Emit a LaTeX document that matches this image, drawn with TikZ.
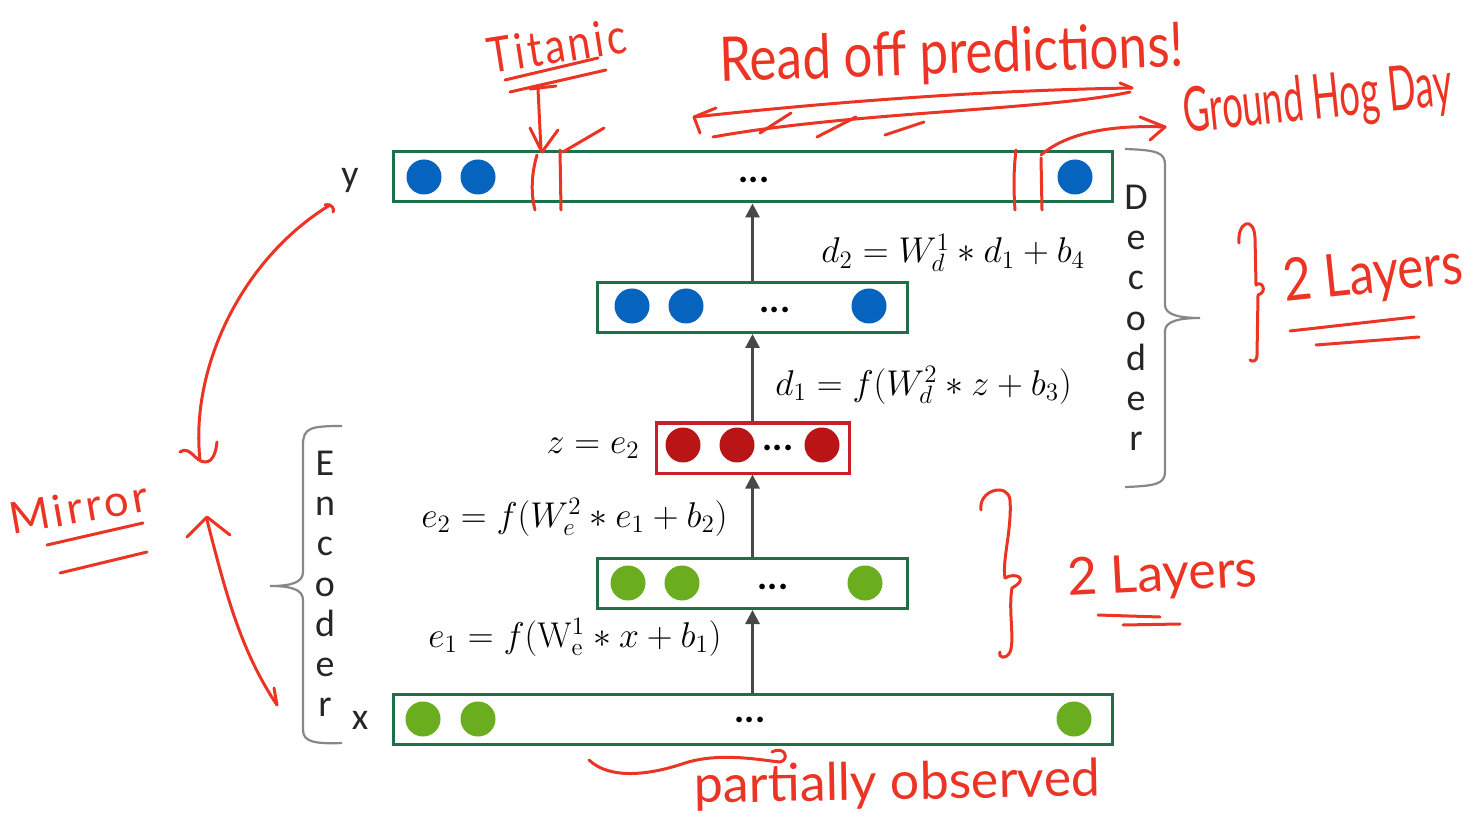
\RequirePackage{fix-cm}
\documentclass[tikz,border=0pt]{standalone}
\usepackage[no-math]{fontspec}
\setmainfont{Carlito}
\newfontfamily\hwfont{Lato}
\newfontfamily\hwwide{Lato}[LetterSpace=8]
\usepackage{graphicx}
\usetikzlibrary{arrows.meta}
\definecolor{boxgreen}{RGB}{31,112,72}
\definecolor{boxred}{RGB}{200,32,42}
\definecolor{unitblue}{RGB}{6,99,190}
\definecolor{unitgreen}{RGB}{106,174,32}
\definecolor{unitred}{RGB}{185,20,22}
\definecolor{arrowgray}{RGB}{72,72,72}
\definecolor{bracegray}{RGB}{135,135,135}
\definecolor{ink}{RGB}{236,52,36}
\tikzset{
  layer/.style={draw=boxgreen, line width=1.5pt, fill=white, inner sep=0pt, minimum height=25pt},
  zlayer/.style={layer, draw=boxred},
  unit/.style={circle, inner sep=0pt, minimum size=17.5pt},
  blueunit/.style={unit, fill=unitblue},
  greenunit/.style={unit, fill=unitgreen},
  redunit/.style={unit, fill=unitred},
  dotsnode/.style={font=\fontsize{19}{20}\selectfont\bfseries, inner sep=0pt},
  flow/.style={draw=arrowgray, line width=1.5pt, -{Triangle[width=7pt,length=7pt]}},
  eq/.style={font=\fontsize{17.9}{20}\selectfont, inner sep=0pt},
  lbl/.style={font=\fontsize{19}{20.1}\selectfont, inner sep=0pt, text=black!85},
  brace/.style={draw=bracegray, line width=1.1pt},
  ink/.style={draw=ink, line width=1.5pt, line cap=round, line join=round},
  hw/.style={text=ink, inner sep=0pt, font=\hwfont, anchor=base west},
}
\begin{document}
\begin{tikzpicture}[x=0.5pt,y=-0.5pt]
\useasboundingbox (0,0) rectangle (1477,823);

% layers
\node[layer, minimum width=359.5pt] (ybox) at (752.5,177) {};
\node[layer, minimum width=155pt] (dbox) at (752.5,307.5) {};
\node[zlayer, minimum width=96.5pt] (zbox) at (752.5,448) {};
\node[layer, minimum width=155pt] (ebox) at (752.5,583.5) {};
\node[layer, minimum width=359.5pt] (xbox) at (752.5,719.5) {};

% units
\node[blueunit] (y1) at (424,177) {};
\node[blueunit] (y2) at (478,177) {};
\node[blueunit] (y3) at (1075,177) {};
\node[dotsnode] (ydots) at (754,180) {...};
\node[blueunit] (d1) at (632,306) {};
\node[blueunit] (d2) at (686,306) {};
\node[blueunit] (d3) at (869,306) {};
\node[dotsnode] (ddots) at (775,310) {...};
\node[redunit] (z1) at (683,445) {};
\node[redunit] (z2) at (737,445) {};
\node[redunit] (z3) at (822,445) {};
\node[dotsnode] (zdots) at (778,448) {...};
\node[greenunit] (e1) at (628,583) {};
\node[greenunit] (e2) at (682,583) {};
\node[greenunit] (e3) at (865,583) {};
\node[dotsnode] (edots) at (773,587) {...};
\node[greenunit] (x1) at (423,719) {};
\node[greenunit] (x2) at (478,719) {};
\node[greenunit] (x3) at (1074,719) {};
\node[dotsnode] (xdots) at (750,720) {...};

% flow arrows
\draw[flow] (xbox.north) -- (ebox.south);
\draw[flow] (ebox.north) -- (zbox.south);
\draw[flow] (zbox.north) -- (dbox.south);
\draw[flow] (dbox.north) -- (ybox.south);

% labels
\node[lbl] (ylab) at (350,180) {y};
\node[lbl] (xlab) at (360,720) {x};
\node[lbl, align=center] (enc) at (325,584) {E\\n\\c\\o\\d\\e\\r};
\node[lbl, align=center] (dec) at (1136,318) {D\\e\\c\\o\\d\\e\\r};

% equations
\node[eq, anchor=base west] (d2eq) at (821,263) {$d_2 = W_d^1 \ast d_1 + b_4$};
\node[eq, anchor=base west] (d1eq) at (775,395) {$d_1 = f(W_d^2 \ast z + b_3)$};
\node[eq, anchor=base east] (zeq) at (640,453) {$z = e_2$};
\node[eq, anchor=base west] (e2eq) at (421,527) {$e_2 = f(W_e^2 \ast e_1 + b_2)$};
\node[eq, anchor=base west] (e1eq) at (428,647) {$e_1 = f(\mathrm{W}_{\mathrm{e}}^{1} \ast x + b_1)$};

% braces
\draw[brace] (342,426) .. controls (310,426) and (303,428) .. (303,445) -- (303,572) .. controls (303,583) and (290,586) .. (270,586) .. controls (290,586) and (303,589) .. (303,600) -- (303,730) .. controls (303,742) and (315,744) .. (342,743);
\draw[brace] (1125,149) .. controls (1158,150) and (1165,153) .. (1165,165) -- (1165,305) .. controls (1165,315) and (1180,318) .. (1200,318) .. controls (1180,318) and (1165,321) .. (1165,331) -- (1165,472) .. controls (1165,484) and (1155,486) .. (1125,487);

% ---- handwritten annotations ----
\node[hw, rotate=9] (titanic) at (490,74) {\scalebox{1}[1.2]{\resizebox{70pt}{!}{\hwwide Titanic}}};
\draw[ink] (505,80) -- (598,58);
\draw[ink] (510,92) -- (606,70);
\draw[ink] (530,89) -- (556,86);
\draw[ink] (538,89) -- (541,150);
\draw[ink] (530,128) -- (542,152) -- (558,130);
\draw[ink] (563,152) -- (604,128);
\draw[ink] (537,155) .. controls (531,175) and (531,195) .. (535,210);
\draw[ink] (560,150) -- (561,210);
\draw[ink] (1016,150) .. controls (1013,175) and (1014,195) .. (1015,210);
\draw[ink] (1041,158) -- (1042,210);

\node[hw, rotate=2] (readoff) at (720,82) {\scalebox{1}[1.2]{\resizebox{232pt}{!}{Read off predictions!}}};
\draw[ink] (694,117) .. controls (850,100) and (1000,90) .. (1132,88);
\draw[ink] (716,108) -- (694,117) -- (700,133);
\draw[ink] (713,137) .. controls (850,112) and (1050,110) .. (1130,92);
\draw[ink] (1120,83) -- (1132,88);
\draw[ink] (760,133) -- (791,113);
\draw[ink] (817,137) -- (856,117);
\draw[ink] (885,135) -- (924,122);

\node[hw, rotate=6] (ghd) at (1185,133) {\scalebox{1}[1.7]{\resizebox{135pt}{!}{Ground Hog Day}}};
\draw[ink] (1041,155) .. controls (1070,130) and (1120,125) .. (1165,127);
\draw[ink] (1140,117) -- (1165,127) -- (1150,140);

\node[hw, rotate=6] (layersA) at (1285,302) {\scalebox{1}[1.2]{\resizebox{90pt}{!}{2 Layers}}};
\draw[ink] (1239,243) .. controls (1237,222) and (1254,215) .. (1255,238) -- (1256,285) .. controls (1262,280) and (1268,292) .. (1258,295) -- (1257,355) .. controls (1257,362) and (1252,362) .. (1250,360);
\draw[ink] (1290,331) -- (1414,317);
\draw[ink] (1316,345) -- (1419,337);

\node[hw, rotate=3] (layersB) at (1068,596) {\resizebox{95pt}{!}{2 Layers}};
\draw[ink] (981,510) .. controls (978,490) and (1008,482) .. (1010,500) .. controls (1012,530) and (1002,560) .. (1005,578) .. controls (1015,572) and (1030,578) .. (1012,588) .. controls (1008,610) and (1015,640) .. (1010,652) .. controls (1006,660) and (998,658) .. (1000,652);
\draw[ink] (1098,615) -- (1160,617);
\draw[ink] (1123,625) -- (1180,624);

\node[hw, rotate=10] (mirror) at (12,535) {\resizebox{70pt}{!}{\hwwide Mirror}};
\draw[ink] (47,545) -- (143,523);
\draw[ink] (60,573) -- (147,552);
\draw[ink] (325,205) .. controls (332,203) and (335,210) .. (333,212);
\draw[ink] (330,205) .. controls (240,260) and (190,370) .. (200,460);
\draw[ink] (180,452) .. controls (190,445) and (195,462) .. (205,462) .. controls (213,462) and (216,452) .. (217,442);
\draw[ink] (277,705) .. controls (240,650) and (225,590) .. (207,520);
\draw[ink] (187,537) -- (207,517) -- (230,535);
\draw[ink] (277,705) -- (274,688);

\node[hw, rotate=1] (partial) at (694,803) {\resizebox{203pt}{!}{partially observed}};
\draw[ink] (589,760) .. controls (610,780) and (650,775) .. (685,763) .. controls (720,752) and (760,760) .. (780,762) .. controls (790,760) and (785,745) .. (772,752);
\end{tikzpicture}
\end{document}
